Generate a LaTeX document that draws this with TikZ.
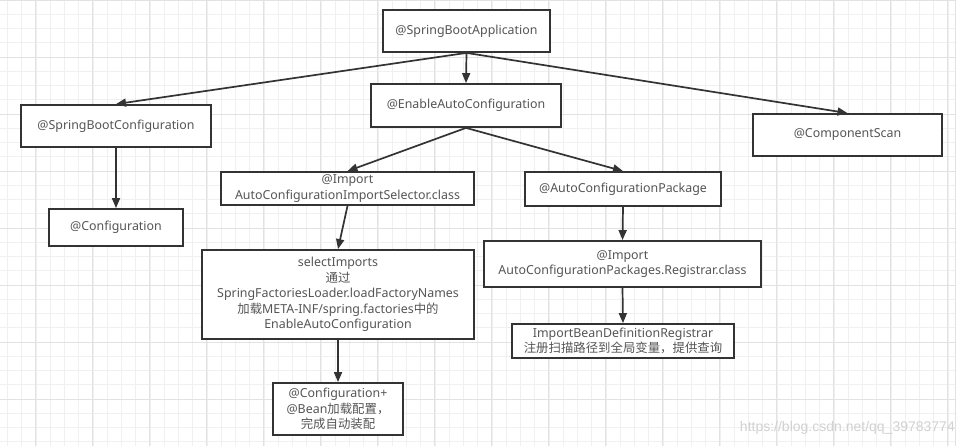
\documentclass[tikz,border=0pt]{standalone}
\usepackage{fontspec}
\setmainfont{Noto Sans}
\newfontfamily\cjk{Noto Sans CJK SC}
\newfontfamily\wmfont{Liberation Sans}
\usetikzlibrary{arrows.meta}
\definecolor{gridminor}{HTML}{F0F0F0}
\definecolor{gridmajor}{HTML}{E2E2E2}
\definecolor{boxline}{HTML}{333333}
\definecolor{txt}{HTML}{555555}
\begin{document}
\begin{tikzpicture}[x=1pt,y=-1pt,
  box/.style={draw=boxline, line width=1.8pt, fill=white, text=txt, align=center,
    inner sep=1pt, font=\fontsize{12.4}{15.4}\selectfont},
  arr/.style={draw=boxline, line width=1.7pt, -{Triangle[length=10pt,width=8pt]}},
  gminor/.style={draw=gridminor, line width=0.6pt},
  gmajor/.style={draw=gridmajor, line width=0.8pt}]
\useasboundingbox (0,0) rectangle (963,446);
\fill[white] (0,0) rectangle (963,446);
% grid
\foreach \i in {0,...,66} {\draw[gminor] ({7.3+14.25*\i},0) -- ({7.3+14.25*\i},446);}
\foreach \j in {0,...,31} {\draw[gminor] (0,{14.25*\j}) -- (955,{14.25*\j});}
\foreach \i in {0,...,16} {\draw[gmajor] ({35.8+57*\i},0) -- ({35.8+57*\i},446);}
\foreach \j in {0,...,7} {\draw[gmajor] (0,{57*\j}) -- (955,{57*\j});}
\draw[gmajor] (955,0) -- (955,446);
% nodes
\node[box, minimum width=167pt, minimum height=42pt] (sba) at (466.5,31) {@SpringBootApplication};
\node[box, minimum width=190pt, minimum height=43pt] (eac) at (466,105.5) {@EnableAutoConfiguration};
\node[box, minimum width=190pt, minimum height=42pt] (sbc) at (116,126) {@SpringBootConfiguration};
\node[box, minimum width=134pt, minimum height=37pt] (cfg) at (116,227.5) {@Configuration};
\node[box, minimum width=189pt, minimum height=42pt] (cs) at (847.5,135) {@ComponentScan};
\node[box, minimum width=253pt, minimum height=33pt] (ais) at (347.5,188.5) {@Import\\AutoConfigurationImportSelector.class};
\node[box, minimum width=196pt, minimum height=34pt] (acp) at (623,189) {@AutoConfigurationPackage};
\node[box, minimum width=277pt, minimum height=46pt] (reg) at (622.5,264) {@Import\\AutoConfigurationPackages.Registrar.class};
\node[box, minimum width=222pt, minimum height=34pt] (ibdr) at (623,341) {ImportBeanDefinitionRegistrar\\{\cjk 注册扫描路径到全局变量，提供查询}};
\node[box, minimum width=272pt, minimum height=89pt] (sel) at (338,294.5) {selectImports\\{\cjk 通过}\\SpringFactoriesLoader.loadFactoryNames\\{\cjk 加载}META-INF/spring.factories{\cjk 中的}\\EnableAutoConfiguration};
\node[box, minimum width=130pt, minimum height=52pt] (cb) at (338,409) {@Configuration+\\@Bean{\cjk 加载配置，}\\{\cjk 完成自动装配}};
% watermark
\node[anchor=east, text=black!18, font=\wmfont\fontsize{14}{16}\selectfont, inner sep=0pt] (wm) at (955,428) {https://blog.csdn.net/qq\_39783774};
% connectors
\draw[arr] (sba.south) -- (eac.north);
\draw[arr] (sba.south) -- (sbc.north);
\draw[arr] (sba.south) -- (cs.north);
\draw[arr] (sbc.south) -- (cfg.north);
\draw[arr] (eac.south) -- (ais.north);
\draw[arr] (eac.south) -- (acp.north);
\draw[arr] (ais.south) -- (sel.north);
\draw[arr] (sel.south) -- (cb.north);
\draw[arr] (acp.south) -- (reg.north);
\draw[arr] (reg.south) -- (ibdr.north);
\end{tikzpicture}
\end{document}
